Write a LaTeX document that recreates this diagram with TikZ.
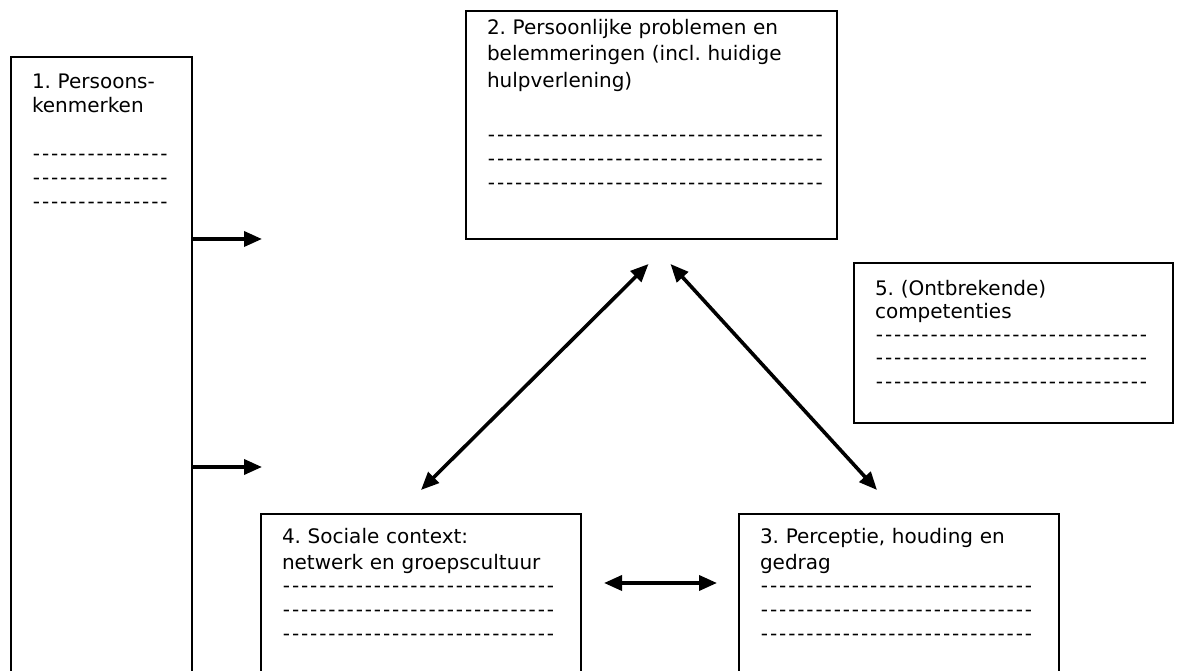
\documentclass[tikz,border=0pt]{standalone}
\usepackage{fontspec}
\setmainfont{DejaVu Sans}
\usepackage{tikz}
\usetikzlibrary{arrows.meta,calc}

\newcommand{\boxfont}{\fontsize{20}{24}\selectfont\frenchspacing}
\newcommand{\dashline}[1]{\foreach \k in {1,...,#1}{\makebox[9.1pt][c]{-}}}

\begin{document}
\begin{tikzpicture}[x=1pt,y=1pt,
    box/.style={draw, line width=2pt, anchor=north west, align=left,
      inner xsep=21pt, inner ysep=0pt, font=\boxfont},
    arr/.style={line width=3.6pt, -{Triangle[length=18pt,width=15pt]}},
    dbl/.style={line width=3.6pt, {Triangle[length=18pt,width=15pt]}-{Triangle[length=18pt,width=15pt]}}]
      \useasboundingbox (0,0) rectangle (1177,671);

      % Draw the five boxes
      \node[box, text width=139pt, text height=32pt, text depth=636pt] (b1) at (10,615)
        {1. Persoons-\\kenmerken\\[24pt]\dashline{15}\\\dashline{15}\\\dashline{15}};
      \node[box, text width=329pt, text height=24pt, text depth=204pt] (b2) at (465,661)
        {2. Persoonlijke problemen en\\[2pt]belemmeringen (incl. huidige\\[3pt]hulpverlening)\\[30pt]\dashline{37}\\\dashline{37}\\\dashline{37}};
      \node[box, text width=277pt, text height=33pt, text depth=127pt] (b5) at (853,409)
        {5. (Ontbrekende)\\[-1pt]competenties\\[-1pt]\dashline{30}\\[-1pt]\dashline{30}\\\dashline{30}};
      \node[box, text width=278pt, text height=30pt, text depth=170pt] (b4) at (260,158)
        {4. Sociale context:\\[2pt]netwerk en groepscultuur\\[-1pt]\dashline{30}\\\dashline{30}\\\dashline{30}};
      \node[box, text width=278pt, text height=30pt, text depth=170pt] (b3) at (738,158)
        {3. Perceptie, houding en\\[2pt]gedrag\\[-1pt]\dashline{30}\\\dashline{30}\\\dashline{30}};

      % Draw the arrows
      \coordinate (p1) at (262,432);
      \coordinate (p2) at (262,204);
      \draw[arr] (b1.east |- p1) -- (p1);
      \draw[arr] (b1.east |- p2) -- (p2);
      \draw[dbl] ([yshift=23pt]b4.north) -- ([xshift=-3pt,yshift=-24pt]b2.south);
      \draw[dbl] ([xshift=19pt,yshift=-24pt]b2.south) -- ([xshift=-22pt,yshift=23pt]b3.north);
      \draw[dbl] ([xshift=22pt]b4.east |- 0,88) -- ([xshift=-21pt]b3.west |- 0,88);
\end{tikzpicture}
\end{document}
